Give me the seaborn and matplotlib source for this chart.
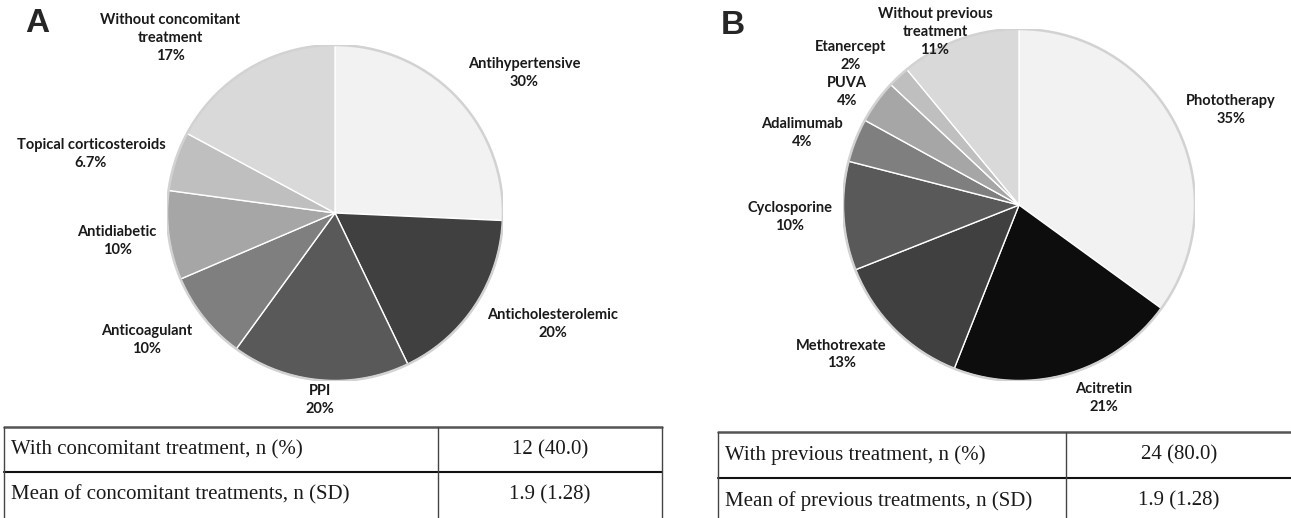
import numpy as np
import seaborn as sns
import matplotlib.pyplot as plt

# panel A: concomitant treatments (slice share, label text as printed)
conc_names = ["Antihypertensive", "Anticholesterolemic", "PPI", "Anticoagulant",
              "Antidiabetic", "Topical corticosteroids", "Without concomitant\ntreatment"]
conc_values = [9, 6, 6, 3, 3, 2, 6]
conc_pct = ["30%", "20%", "20%", "10%", "10%", "6.7%", "17%"]

# panel B: previous treatments
prev_names = ["Phototherapy", "Acitretin", "Methotrexate", "Cyclosporine",
              "Adalimumab", "PUVA", "Etanercept", "Without previous\ntreatment"]
prev_values = [35, 21, 13, 10, 4, 4, 2, 11]
prev_pct = ["35%", "21%", "13%", "10%", "4%", "4%", "2%", "11%"]

conc_rows = ["With concomitant treatment, n (%)", "Mean of concomitant treatments, n (SD)"]
conc_cells = ["12 (40.0)", "1.9 (1.28)"]
prev_rows = ["With previous treatment, n (%)", "Mean of previous treatments, n (SD)"]
prev_cells = ["24 (80.0)", "1.9 (1.28)"]

conc_colors = ["#f2f2f2", "#404040", "#595959", "#7f7f7f", "#a6a6a6", "#bfbfbf", "#d9d9d9"]
prev_colors = ["#f2f2f2", "#0d0d0d", "#404040", "#595959", "#7f7f7f", "#a6a6a6", "#bfbfbf", "#d9d9d9"]

# label placement: angle (deg) and distance from centre (in radii)
conc_lab_ang = [36.5, -27.0, -94.6, 214.0, 187.3, 166.4, 133.3]
conc_lab_dist = [1.40, 1.456, 1.117, 1.35, 1.308, 1.494, 1.432]
prev_lab_ang = [24.1, -66.2, 220.1, 183.0, 161.6, 146.7, 138.4, 115.9]
prev_lab_dist = [1.32, 1.198, 1.319, 1.303, 1.299, 1.169, 1.276, 1.093]

W, H = 1291, 518
sns.set_theme(style="white")
plt.rcParams["font.family"] = ["Lato", "DejaVu Sans"]

fig = plt.figure(figsize=(W / 100, H / 100), dpi=100)


def px_axes(x0, y0, x1, y1):
    """ axes from pixel box (top-left origin) """
    return fig.add_axes([x0 / W, 1 - y1 / H, (x1 - x0) / W, (y1 - y0) / H])


def draw_pie(cx, cy, r, values, names, pct, colors, angs, dists):
    ax = px_axes(cx - r, cy - r, cx + r, cy + r)
    ax.pie(values, colors=colors, startangle=90, counterclock=False,
           wedgeprops=dict(edgecolor="white", linewidth=1.0))
    ax.add_patch(plt.Circle((0, 0), 1.0, fill=False, edgecolor="#d2d2d2", lw=1.8))
    for name, p, a, d in zip(names, pct, angs, dists):
        ang = np.deg2rad(a)
        ax.text(d * np.cos(ang), d * np.sin(ang), name + "\n" + p, ha="center",
                va="center", fontsize=10.5, fontweight="bold", color="#1a1a1a",
                linespacing=1.35)
    ax.set_xlim(-1, 1)
    ax.set_ylim(-1, 1)
    ax.axis("off")
    return ax


def draw_table(x0, x1, xdiv, ytop, ymid, rows, cells):
    ax = px_axes(0, 0, W, H)
    ax.set_xlim(0, W)
    ax.set_ylim(H, 0)
    ax.axis("off")
    ax.plot([x0, x1], [ytop, ytop], color="#555555", lw=1.8)
    ax.plot([x0, x1], [ymid, ymid], color="#111111", lw=1.5)
    for x in (x0, xdiv, x1):
        ax.plot([x, x], [ytop, H + 5], color="#444444", lw=1.0)
    step = ymid - ytop
    for i, (lab, val) in enumerate(zip(rows, cells)):
        yc = ytop + step * (i + 0.5)
        ax.text(x0 + 7, yc, lab, ha="left", va="center", fontsize=15,
                family=["Liberation Serif"], color="#1a1a1a")
        ax.text((xdiv + x1) / 2, yc, val, ha="center", va="center", fontsize=15,
                family=["Liberation Serif"], color="#1a1a1a")


draw_pie(335, 213, 168, conc_values, conc_names, conc_pct, conc_colors,
         conc_lab_ang, conc_lab_dist)
draw_pie(1019, 205, 176, prev_values, prev_names, prev_pct, prev_colors,
         prev_lab_ang, prev_lab_dist)

draw_table(4, 662, 438, 427, 472, conc_rows, conc_cells)
draw_table(718, 1292, 1066, 432, 478, prev_rows, prev_cells)

fig.text(25 / W, 1 - 24 / H, "A", fontsize=24, fontweight="bold",
         family=["Liberation Sans"], va="center")
fig.text(721 / W, 1 - 26 / H, "B", fontsize=24, fontweight="bold",
         family=["Liberation Sans"], va="center")

fig.savefig("out.png", dpi=100, facecolor="white")
